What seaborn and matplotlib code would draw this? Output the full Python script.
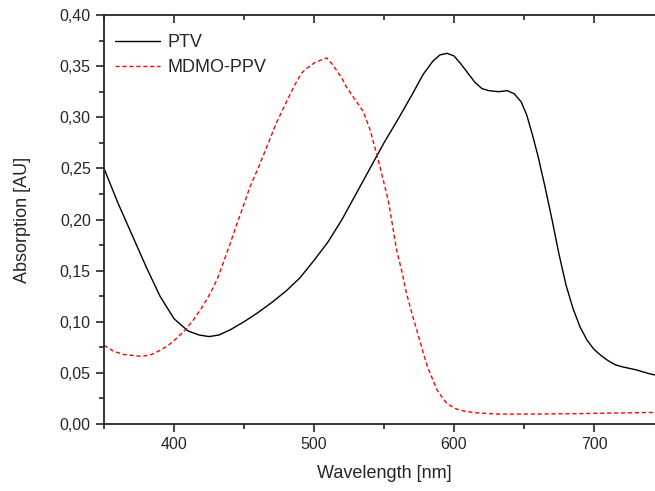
import numpy as np
import pandas as pd
import matplotlib
matplotlib.use('Agg')
import matplotlib.pyplot as plt
from matplotlib.ticker import MultipleLocator, FuncFormatter
import seaborn as sns

# PTV absorption
ptv_nm = [350, 360, 370, 380, 390, 400, 410, 418, 425, 432, 440, 450, 460,
          470, 480, 490, 500, 510, 520, 530, 540, 550, 560, 570, 578, 585,
          590, 595, 600, 605, 610, 615, 620, 625, 632, 638, 643, 648, 652,
          656, 660, 665, 670, 675, 680, 685, 690, 695, 700, 705, 710, 715,
          720, 730, 740, 750]
ptv_abs = [0.250, 0.216, 0.185, 0.154, 0.125, 0.103, 0.091, 0.087, 0.0855,
           0.087, 0.092, 0.100, 0.109, 0.119, 0.130, 0.143, 0.160, 0.178,
           0.200, 0.225, 0.250, 0.275, 0.298, 0.322, 0.342, 0.355, 0.361,
           0.3625, 0.360, 0.352, 0.343, 0.334, 0.328, 0.326, 0.325, 0.326,
           0.323, 0.315, 0.302, 0.283, 0.262, 0.232, 0.200, 0.166, 0.136,
           0.113, 0.095, 0.082, 0.073, 0.067, 0.062, 0.058, 0.056, 0.053,
           0.049, 0.046]

# MDMO-PPV absorption
ppv_nm = [350, 357, 364, 371, 377, 384, 390, 396, 402, 408, 414, 420, 426,
          431, 435, 440, 445, 450, 454, 460, 466, 473, 481, 486, 491, 495,
          500, 505, 509, 513, 516, 520, 523, 529, 535, 540, 545, 549, 553,
          556, 559, 563, 566, 570, 574, 578, 581, 585, 588, 592, 595, 601,
          607, 615, 630, 645, 660, 680, 700, 720, 750]
ppv_abs = [0.077, 0.071, 0.068, 0.067, 0.066, 0.068, 0.072, 0.077, 0.084,
           0.092, 0.102, 0.114, 0.128, 0.142, 0.157, 0.176, 0.196, 0.215,
           0.231, 0.250, 0.270, 0.294, 0.317, 0.331, 0.343, 0.348, 0.353,
           0.356, 0.358, 0.352, 0.346, 0.338, 0.330, 0.318, 0.306, 0.288,
           0.263, 0.241, 0.219, 0.195, 0.170, 0.148, 0.128, 0.108, 0.089,
           0.070, 0.056, 0.043, 0.033, 0.025, 0.020, 0.015, 0.0127, 0.011,
           0.0098, 0.0097, 0.0098, 0.0100, 0.0104, 0.0108, 0.0115]

sns.set_style("ticks")
plt.rcParams['font.family'] = ['Liberation Sans', 'DejaVu Sans']

df_ptv = pd.DataFrame({'nm': ptv_nm, 'abs': ptv_abs})
df_ppv = pd.DataFrame({'nm': ppv_nm, 'abs': ppv_abs})

fig = plt.figure(figsize=(6.55, 4.91), dpi=100)
ax = fig.add_axes([104 / 655, 1 - 424 / 491, 560 / 655, 409 / 491])

sns.lineplot(data=df_ptv, x='nm', y='abs', ax=ax, color='black', linewidth=1.0,
             label='PTV', estimator=None, sort=False)
sns.lineplot(data=df_ppv, x='nm', y='abs', ax=ax, color='red', linewidth=1.0,
             linestyle=(0, (3, 2)), label='MDMO-PPV', estimator=None, sort=False)

ax.set_xlim(350, 750)
ax.set_ylim(0, 0.40)
ax.xaxis.set_major_locator(MultipleLocator(100))
ax.xaxis.set_minor_locator(MultipleLocator(50))
ax.yaxis.set_major_locator(MultipleLocator(0.05))
ax.yaxis.set_minor_locator(MultipleLocator(0.025))
ax.yaxis.set_major_formatter(FuncFormatter(lambda v, p: f"{v:.2f}".replace('.', ',')))

ax.tick_params(axis='both', which='both', direction='out', labelsize=11.5,
               width=1.2, top=True, right=True)
ax.tick_params(which='major', length=6)
ax.tick_params(which='minor', length=3.5)
# top / right ticks point inward
for t in ax.xaxis.get_major_ticks() + ax.xaxis.get_minor_ticks():
    t.tick2line.set_marker(3)
for t in ax.yaxis.get_major_ticks() + ax.yaxis.get_minor_ticks():
    t.tick2line.set_marker(0)

for s in ax.spines.values():
    s.set_linewidth(1.3)

ax.set_xlabel('Wavelength [nm]', fontsize=13, labelpad=9)
ax.set_ylabel('Absorption [AU]', fontsize=13, labelpad=21)

leg = ax.legend(loc='upper left', frameon=False, fontsize=13, handlelength=2.5,
                handletextpad=0.4, borderaxespad=0.2, labelspacing=0.45,
                bbox_to_anchor=(0.0, 0.98))

fig.savefig('out.png', dpi=100)
